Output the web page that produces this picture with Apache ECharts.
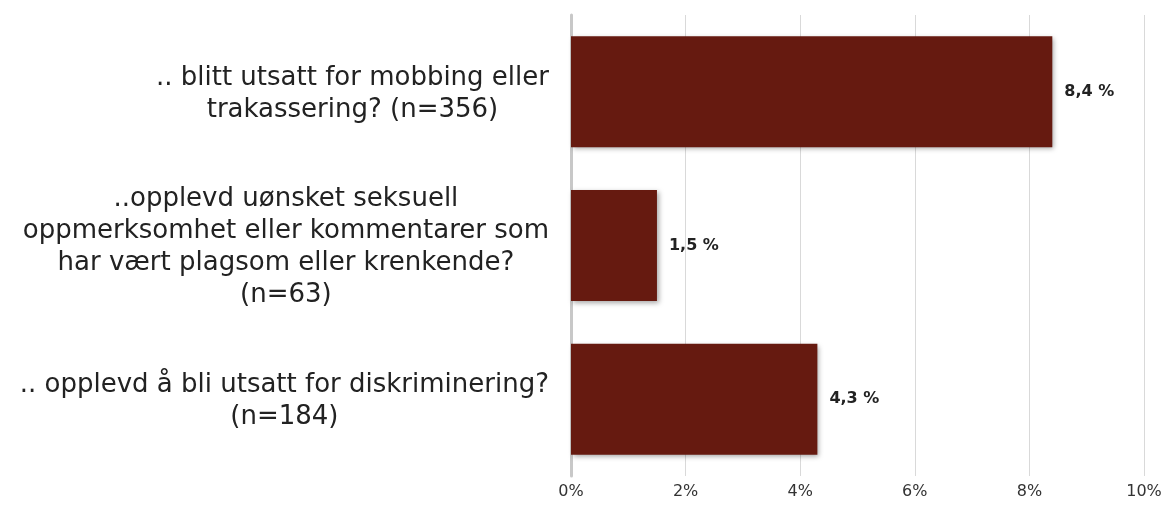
<!DOCTYPE html>
<html><head><meta charset="utf-8">
<script src="https://cdn.jsdelivr.net/npm/echarts@6/dist/echarts.min.js"></script>
<style>html,body{margin:0;padding:0;background:#fff}#c{width:1172px;height:512px}</style>
</head><body><div id="c"></div>
<script>
const categories = [
  ".. blitt utsatt for mobbing eller\ntrakassering? (n=356)",
  "..opplevd uønsket seksuell\noppmerksomhet eller kommentarer som\nhar vært plagsom eller krenkende?\n(n=63)",
  ".. opplevd å bli utsatt for diskriminering?\n(n=184)"
];
const values = [8.4, 1.5, 4.3];
const xTicks = [0, 2, 4, 6, 8, 10];

const chart = echarts.init(document.getElementById('c'), null, {renderer: 'canvas'});
chart.setOption({
  animation: false,
  grid: {left: 571, right: 28, top: 15, bottom: 36, containLabel: false},
  xAxis: {
    type: 'value', min: xTicks[0], max: xTicks[xTicks.length - 1], interval: 2,
    axisLine: {show: false}, axisTick: {show: false},
    splitLine: {show: true, lineStyle: {color: '#d9d9d9', width: 1}},
    axisLabel: {formatter: '{value}%', fontFamily: 'DejaVu Sans', fontSize: 16, color: '#333', margin: 8}
  },
  yAxis: {
    type: 'category', data: categories, inverse: true,
    axisLine: {show: true, lineStyle: {color: '#c8c8c8', width: 3}},
    axisTick: {show: false},
    axisLabel: {
      margin: 22, align: 'right',
      formatter: v => v.split('\n').map(l => '{c|' + l + '}').join('\n'),
      rich: {c: {align: 'center', fontFamily: 'DejaVu Sans', fontSize: 26, lineHeight: 32, color: '#222', padding: [4, 0, 0, 0]}}
    }
  },
  series: [{
    type: 'bar', data: values, barWidth: 111,
    itemStyle: {color: '#661a10', shadowBlur: 5, shadowOffsetX: 2, shadowOffsetY: 2, shadowColor: 'rgba(0,0,0,0.35)'},
    label: {show: true, position: 'right', distance: 12, fontFamily: 'DejaVu Sans', fontWeight: 'bold', fontSize: 16, color: '#222',
      formatter: p => p.value.toFixed(1).replace('.', ',') + ' %'}
  }]
});
</script></body></html>
